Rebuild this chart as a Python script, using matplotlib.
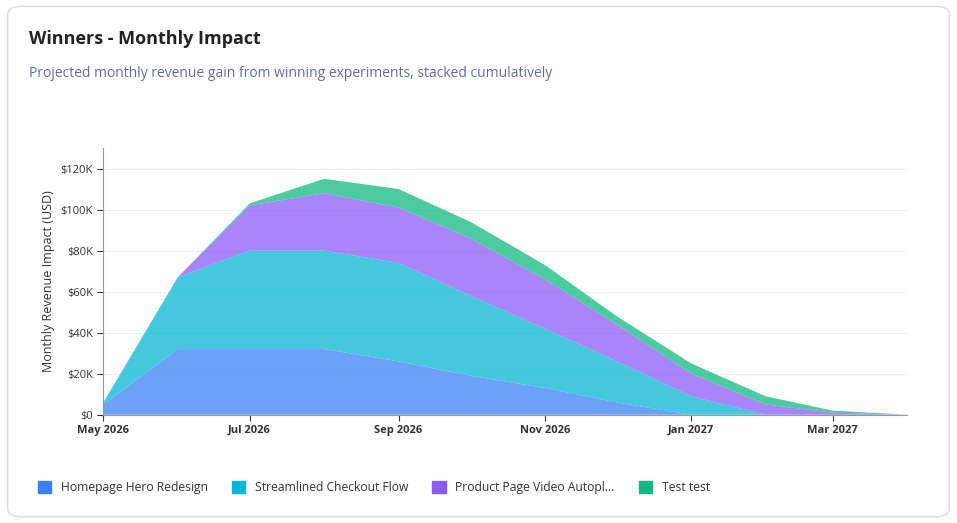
import matplotlib.pyplot as plt
import matplotlib.dates as mdates
from matplotlib.patches import FancyBboxPatch
from matplotlib.ticker import FuncFormatter
import numpy as np
import datetime as dt

months = [dt.date(2026, m, 1) for m in range(5, 13)] + [dt.date(2027, m, 1) for m in range(1, 5)]
series_names = ["Homepage Hero Redesign", "Streamlined Checkout Flow",
                "Product Page Video Autopl...", "Test test"]
homepage = [5, 32, 32, 32, 26, 19, 13, 6, 0, 0, 0, 0]
checkout = [1, 35, 48, 48, 48, 39, 29, 20, 9, 0, 0, 0]
video = [0, 0, 22, 28, 27, 28, 24, 18, 11, 5, 1, 0]
testtest = [0, 0, 1, 7, 9, 8, 7, 4, 5, 4, 1, 0]
colors = ["#3b82f6", "#06b6d4", "#8b5cf6", "#10b981"]

plt.rcParams['font.family'] = ['Open Sans', 'DejaVu Sans']
fig = plt.figure(figsize=(9.57, 5.23), dpi=100)
card = FancyBboxPatch((0.008, 0.012), 0.984, 0.976, boxstyle="round,pad=0,rounding_size=0.015",
                      transform=fig.transFigure, facecolor="white", edgecolor="#dddddd", lw=1, zorder=-10)
fig.patches.append(card)
fig.text(0.03, 0.915, "Winners - Monthly Impact", fontsize=13, fontweight="bold", color="#222222")
fig.text(0.03, 0.853, "Projected monthly revenue gain from winning experiments, stacked cumulatively",
         fontsize=10, color="#667085")

ax = fig.add_axes([0.108, 0.207, 0.84, 0.51])
ax.patch.set_alpha(0)
vals = np.array([homepage, checkout, video, testtest], dtype=float)
ax.stackplot(months, vals * 1000, colors=colors, alpha=0.75, edgecolor="none")
ax.set_xlim(months[0], months[-1])
ax.set_ylim(0, 130000)
ax.set_yticks(range(0, 120001, 20000))
ax.yaxis.set_major_formatter(FuncFormatter(lambda v, p: "$0" if v == 0 else f"${int(v/1000)}K"))
ax.xaxis.set_major_locator(mdates.MonthLocator(bymonth=[1, 3, 5, 7, 9, 11]))
ax.xaxis.set_major_formatter(mdates.DateFormatter("%b %Y"))
ax.tick_params(labelsize=8, colors="#333333", length=4)
for lab in ax.get_xticklabels():
    lab.set_fontweight("bold")
ax.grid(axis="y", color="#eeeeee", lw=0.8)
ax.set_axisbelow(True)
for s in ["top", "right"]:
    ax.spines[s].set_visible(False)
ax.spines["left"].set_color("#999999")
ax.spines["bottom"].set_color("#999999")
ax.set_ylabel("Monthly Revenue Impact (USD)", fontsize=9, color="#333333")

handles = [plt.Rectangle((0, 0), 1, 1, color=c) for c in colors]
fig.legend(handles, series_names, loc="lower left", bbox_to_anchor=(0.028, 0.035), ncol=4, frameon=False,
           fontsize=8.7, handlelength=1.1, handleheight=1.1, columnspacing=2.0, labelcolor="#333333")
fig.savefig("out.png", dpi=100)
